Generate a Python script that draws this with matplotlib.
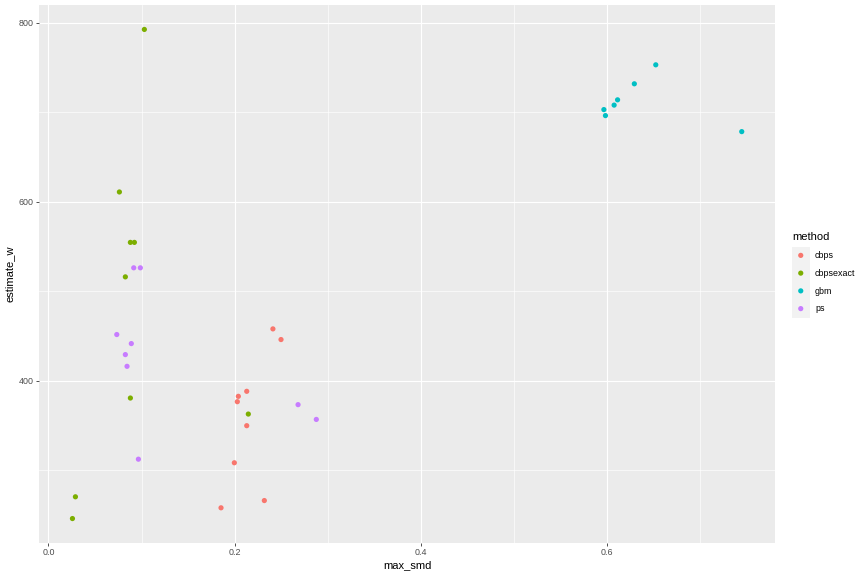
import matplotlib
matplotlib.use("Agg")
import matplotlib.pyplot as plt

plt.rcParams['font.family'] = ['Liberation Sans', 'DejaVu Sans']

# values
methods = ['cbps', 'cbpsexact', 'gbm', 'ps']
colors = ['#F8766D', '#7CAE00', '#00BFC4', '#C77CFF']

cbps_x = [0.241, 0.2497, 0.2129, 0.2039, 0.2028, 0.2129, 0.1996, 0.2318, 0.1853]
cbps_y = [458.1, 446.2, 388.4, 382.8, 376.8, 350.0, 308.6, 266.4, 258.3]

cbpsexact_x = [0.103, 0.0762, 0.088, 0.0923, 0.0826, 0.088, 0.2146, 0.029, 0.0258]
cbpsexact_y = [792.5, 611.0, 554.7, 554.7, 516.2, 380.9, 363.0, 270.6, 246.3]

gbm_x = [0.652, 0.629, 0.611, 0.6073, 0.5963, 0.598, 0.7443]
gbm_y = [753.0, 731.8, 713.9, 708.0, 703.0, 696.3, 678.4]

ps_x = [0.0916, 0.0987, 0.0734, 0.089, 0.0826, 0.0844, 0.0966, 0.268, 0.2876]
ps_y = [526.3, 526.3, 451.8, 441.7, 429.4, 416.3, 312.6, 373.5, 357.0]

xs = [cbps_x, cbpsexact_x, gbm_x, ps_x]
ys = [cbps_y, cbpsexact_y, gbm_y, ps_y]

fig = plt.figure(figsize=(8.64, 5.76), dpi=100)
ax = fig.add_axes([39/864, 1 - 543/576, (775 - 39)/864, (543 - 5)/576])
ax.set_facecolor('#EBEBEB')

for x, y, c in zip(xs, ys, colors):
    ax.scatter(x, y, s=14, color=c, edgecolors='none', zorder=3)

ax.set_xlim(-0.0101, 0.780)
ax.set_ylim(219.0, 819.8)
ax.set_xticks([0.0, 0.2, 0.4, 0.6])
ax.set_xticklabels(['0.0', '0.2', '0.4', '0.6'])
ax.set_xticks([0.1, 0.3, 0.5, 0.7], minor=True)
ax.set_yticks([400, 600, 800])
ax.set_yticks([300, 500, 700], minor=True)
ax.grid(which='major', color='white', lw=0.85)
ax.grid(which='minor', color='white', lw=0.45)
ax.set_axisbelow(True)
for sp in ax.spines.values():
    sp.set_visible(False)
ax.tick_params(which='major', length=2.2, width=0.6, color='#333333',
               labelsize=6.4, labelcolor='#4D4D4D', pad=1.5)
ax.tick_params(which='minor', length=0)
ax.set_xlabel('max_smd', fontsize=8, labelpad=2)
ax.set_ylabel('estimate_w', fontsize=8, labelpad=3)

# legend drawn by hand, ggplot style
fig.text(792/864, 1 - 237/576, 'method', fontsize=8, va='center', ha='left')
lax = fig.add_axes([791.5/864, 1 - 317.5/576, 18.5/864, 71/576])
lax.set_facecolor('#F2F2F2')
lax.set_xlim(0, 1)
lax.set_ylim(0, 4)
for i, (m, c) in enumerate(zip(methods, colors)):
    yy = 3.5 - i
    lax.scatter([0.5], [yy], s=14, color=c, edgecolors='none')
    fig.text(815/864, 1 - (256 + 17.6 * i)/576, m, fontsize=6.4,
             va='center', ha='left')
lax.set_xticks([])
lax.set_yticks([])
for sp in lax.spines.values():
    sp.set_visible(False)

fig.savefig('out.png', dpi=100)
